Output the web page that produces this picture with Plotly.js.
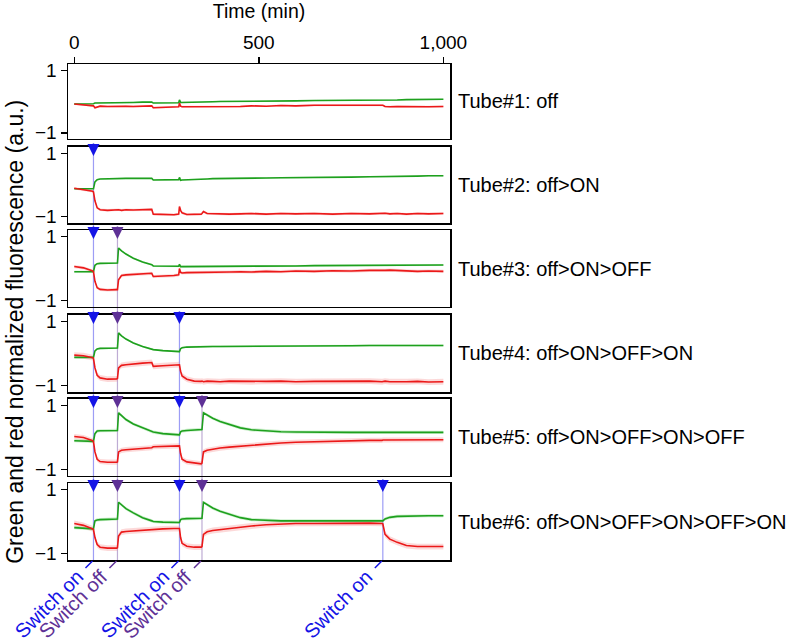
<!DOCTYPE html>
<html>
<head>
<meta charset="utf-8">
<script src="https://cdn.plot.ly/plotly-3.0.1.min.js"></script>
<style>
  html, body { margin: 0; padding: 0; background: #fff; }
  #chart { width: 788px; height: 640px; }
</style>
</head>
<body>
<div id="chart"></div>
<script>
// time points (min), shared by all tubes
var t = [0, 25, 50, 52, 56, 62, 70, 90, 115, 117,
         120, 128, 140, 160, 185, 210, 214, 240, 270, 283,
         285, 288, 292, 305, 325, 344, 346, 350, 360, 375,
         395, 420, 450, 480, 520, 560, 600, 650, 700, 750,
         800, 834, 836, 842, 855, 875, 900, 930, 960, 1000];

var green1 = [-0.08, -0.08, -0.08, -0.07, -0.05, -0.05, -0.05, -0.04, -0.04, -0.04,
              -0.04, -0.03, -0.03, -0.03, -0.02, -0.02, -0.05, -0.05, -0.04, -0.04,
              0.05, -0.03, -0.03, -0.03, -0.02, -0.02, -0.02, -0.02, -0.01, -0.01,
              0.0, 0.0, 0.0, 0.01, 0.01, 0.02, 0.02, 0.03, 0.03, 0.04,
              0.04, 0.04, 0.05, 0.05, 0.05, 0.05, 0.06, 0.06, 0.06, 0.07];
var red1 = [-0.08, -0.1, -0.12, -0.14, -0.2, -0.17, -0.15, -0.16, -0.15, -0.16,
            -0.15, -0.16, -0.15, -0.16, -0.15, -0.14, -0.2, -0.19, -0.18, -0.17,
            -0.05, -0.15, -0.17, -0.17, -0.16, -0.17, -0.16, -0.17, -0.16, -0.15,
            -0.16, -0.15, -0.16, -0.14, -0.15, -0.13, -0.14, -0.12, -0.13, -0.12,
            -0.12, -0.11, -0.12, -0.16, -0.17, -0.16, -0.17, -0.16, -0.17, -0.16];

var green2 = [-0.12, -0.12, -0.12, -0.12, 0.1, 0.17, 0.19, 0.2, 0.21, 0.21,
              0.21, 0.21, 0.21, 0.21, 0.21, 0.21, 0.16, 0.16, 0.16, 0.17,
              0.24, 0.15, 0.16, 0.17, 0.18, 0.18, 0.19, 0.19, 0.19, 0.2,
              0.2, 0.21, 0.21, 0.22, 0.22, 0.23, 0.23, 0.24, 0.24, 0.25,
              0.26, 0.26, 0.26, 0.27, 0.27, 0.27, 0.28, 0.28, 0.29, 0.29];
var red2 = [-0.1, -0.14, -0.2, -0.22, -0.5, -0.72, -0.78, -0.8, -0.78, -0.79,
            -0.78, -0.8, -0.78, -0.79, -0.77, -0.77, -0.92, -0.93, -0.94, -0.92,
            -0.68, -0.8, -0.88, -0.93, -0.93, -0.92, -0.9, -0.84, -0.9, -0.91,
            -0.9, -0.92, -0.91, -0.9, -0.92, -0.9, -0.91, -0.9, -0.92, -0.9,
            -0.91, -0.9, -0.91, -0.89, -0.91, -0.9, -0.92, -0.9, -0.91, -0.9];

var green3 = [-0.1, -0.1, -0.1, -0.1, 0.1, 0.15, 0.16, 0.17, 0.17, 0.17,
              0.64, 0.55, 0.45, 0.32, 0.2, 0.12, 0.08, 0.07, 0.07, 0.07,
              0.13, 0.06, 0.06, 0.06, 0.06, 0.07, 0.07, 0.07, 0.07, 0.07,
              0.07, 0.07, 0.07, 0.08, 0.08, 0.08, 0.08, 0.09, 0.09, 0.09,
              0.09, 0.1, 0.1, 0.1, 0.1, 0.1, 0.1, 0.11, 0.11, 0.11];
var red3 = [0.06, 0.02, -0.08, -0.1, -0.4, -0.6, -0.65, -0.67, -0.66, -0.66,
            -0.35, -0.22, -0.2, -0.19, -0.18, -0.15, -0.25, -0.24, -0.22, -0.2,
            0.0, -0.12, -0.14, -0.13, -0.13, -0.12, -0.13, -0.12, -0.12, -0.11,
            -0.12, -0.11, -0.1, -0.11, -0.09, -0.1, -0.08, -0.09, -0.07, -0.08,
            -0.06, -0.07, -0.06, -0.06, -0.05, -0.06, -0.07, -0.09, -0.08, -0.09];

var green4 = [-0.12, -0.12, -0.12, -0.12, 0.08, 0.14, 0.16, 0.17, 0.17, 0.17,
              0.64, 0.55, 0.45, 0.33, 0.22, 0.14, 0.12, 0.09, 0.07, 0.06,
              0.06, 0.15, 0.18, 0.2, 0.21, 0.21, 0.21, 0.22, 0.22, 0.22,
              0.22, 0.22, 0.23, 0.23, 0.23, 0.23, 0.24, 0.24, 0.24, 0.24,
              0.25, 0.25, 0.25, 0.25, 0.25, 0.25, 0.25, 0.25, 0.25, 0.25];
var red4 = [-0.05, -0.07, -0.13, -0.15, -0.45, -0.68, -0.76, -0.8, -0.79, -0.78,
            -0.45, -0.37, -0.35, -0.32, -0.3, -0.28, -0.4, -0.38, -0.36, -0.35,
            -0.35, -0.55, -0.7, -0.8, -0.86, -0.87, -0.86, -0.88, -0.86, -0.87,
            -0.88, -0.86, -0.87, -0.88, -0.87, -0.86, -0.88, -0.87, -0.86, -0.87,
            -0.86, -0.88, -0.87, -0.86, -0.88, -0.87, -0.88, -0.87, -0.89, -0.88];

var green5 = [-0.1, -0.1, -0.11, -0.12, 0.12, 0.2, 0.21, 0.22, 0.22, 0.22,
              0.77, 0.68, 0.56, 0.42, 0.3, 0.2, 0.17, 0.12, 0.09, 0.08,
              0.08, 0.18, 0.2, 0.22, 0.24, 0.25, 0.25, 0.77, 0.7, 0.6,
              0.5, 0.4, 0.3, 0.24, 0.2, 0.18, 0.17, 0.16, 0.16, 0.16,
              0.16, 0.16, 0.16, 0.16, 0.16, 0.16, 0.16, 0.16, 0.16, 0.16];
var red5 = [0.03, 0.0, -0.1, -0.13, -0.45, -0.68, -0.75, -0.77, -0.77, -0.76,
            -0.45, -0.4, -0.38, -0.36, -0.34, -0.32, -0.29, -0.28, -0.27, -0.26,
            -0.26, -0.5, -0.68, -0.76, -0.8, -0.82, -0.8, -0.45, -0.4, -0.36,
            -0.33, -0.3, -0.27, -0.24, -0.2, -0.17, -0.15, -0.13, -0.11, -0.1,
            -0.09, -0.09, -0.08, -0.08, -0.08, -0.07, -0.08, -0.07, -0.07, -0.07];

var green6 = [-0.19, -0.2, -0.22, -0.23, 0.02, 0.05, 0.06, 0.07, 0.08, 0.08,
              0.6, 0.52, 0.4, 0.27, 0.12, 0.02, 0.0, -0.02, -0.03, -0.03,
              -0.03, 0.06, 0.08, 0.09, 0.1, 0.1, 0.1, 0.6, 0.52, 0.42,
              0.32, 0.22, 0.12, 0.06, 0.03, 0.02, 0.02, 0.02, 0.02, 0.02,
              0.02, 0.02, 0.02, 0.08, 0.13, 0.16, 0.17, 0.18, 0.18, 0.18];
var red6 = [-0.06, -0.12, -0.23, -0.25, -0.5, -0.72, -0.8, -0.83, -0.83, -0.82,
            -0.45, -0.33, -0.31, -0.29, -0.27, -0.25, -0.24, -0.23, -0.22, -0.22,
            -0.22, -0.5, -0.68, -0.77, -0.8, -0.8, -0.78, -0.4, -0.32, -0.28,
            -0.25, -0.22, -0.18, -0.14, -0.1, -0.07, -0.06, -0.06, -0.05, -0.06,
            -0.05, -0.06, -0.07, -0.4, -0.55, -0.65, -0.75, -0.78, -0.77, -0.78];

// spread of the replicates (half width of the shaded band)
var greenSd = [0.02, 0.02, 0.03, 0.03, 0.05, 0.05];
var redSd = [0.03, 0.04, 0.05, 0.09, 0.08, 0.09];

var tubeLabels = ["Tube#1: off", "Tube#2: off>ON", "Tube#3: off>ON>OFF",
                  "Tube#4: off>ON>OFF>ON", "Tube#5: off>ON>OFF>ON>OFF",
                  "Tube#6: off>ON>OFF>ON>OFF>ON"];

var switchTimes = [52, 117, 285, 346, 836];
var switchKinds = ["on", "off", "on", "off", "on"];
var switchFirstTube = [2, 3, 4, 5, 6];

var greens = [green1, green2, green3, green4, green5, green6];
var reds = [red1, red2, red3, red4, red5, red6];

var FONT = "Liberation Sans, Arial, Helvetica, sans-serif";
var domains = [[0.8488, 1], [0.6794, 0.8327], [0.5101, 0.6653],
               [0.3387, 0.4940], [0.1694, 0.3246], [0, 0.1552]];

function band(y, sd, sign) {
  return y.map(function(v) { return v + sign * sd; });
}

var data = [];
for (var i = 0; i < 6; i++) {
  var xa = i == 0 ? "x" : "x" + (i + 1);
  var ya = i == 0 ? "y" : "y" + (i + 1);
  // shaded bands
  data.push({x: t, y: band(reds[i], redSd[i], 1), xaxis: xa, yaxis: ya, mode: "lines",
             line: {width: 0, color: "rgba(0,0,0,0)"}, hoverinfo: "skip", showlegend: false});
  data.push({x: t, y: band(reds[i], redSd[i], -1), xaxis: xa, yaxis: ya, mode: "lines",
             fill: "tonexty", fillcolor: "rgba(245,120,120,0.28)",
             line: {width: 0, color: "rgba(0,0,0,0)"}, hoverinfo: "skip", showlegend: false});
  data.push({x: t, y: band(greens[i], greenSd[i], 1), xaxis: xa, yaxis: ya, mode: "lines",
             line: {width: 0, color: "rgba(0,0,0,0)"}, hoverinfo: "skip", showlegend: false});
  data.push({x: t, y: band(greens[i], greenSd[i], -1), xaxis: xa, yaxis: ya, mode: "lines",
             fill: "tonexty", fillcolor: "rgba(80,200,80,0.28)",
             line: {width: 0, color: "rgba(0,0,0,0)"}, hoverinfo: "skip", showlegend: false});
  // mean lines
  data.push({x: t, y: greens[i], xaxis: xa, yaxis: ya, mode: "lines",
             line: {width: 1.6, color: "rgb(30,160,30)"}, showlegend: false});
  data.push({x: t, y: reds[i], xaxis: xa, yaxis: ya, mode: "lines",
             line: {width: 1.6, color: "rgb(235,25,25)"}, showlegend: false});
}

var layout = {
  width: 788, height: 640,
  margin: {l: 68, r: 338, t: 64, b: 80},
  paper_bgcolor: "#fff", plot_bgcolor: "#fff",
  font: {family: FONT, size: 19, color: "#000"},
  showlegend: false,
  shapes: [], annotations: []
};

for (var i = 0; i < 6; i++) {
  var xk = i == 0 ? "xaxis" : "xaxis" + (i + 1);
  var yk = i == 0 ? "yaxis" : "yaxis" + (i + 1);
  var xa = {
    domain: [0, 1], anchor: i == 0 ? "y" : "y" + (i + 1), range: [-17, 1018],
    showline: true, mirror: true, linecolor: "#000", linewidth: 1.5,
    showgrid: false, zeroline: false, fixedrange: true
  };
  if (i == 0) {
    xa.side = "top";
    xa.ticks = "outside"; xa.ticklen = 6; xa.tickwidth = 1.5; xa.tickcolor = "#000";
    xa.tickvals = [0, 500, 1000]; xa.tickformat = ",";
    xa.tickfont = {size: 19};
    xa.title = {text: "Time (min)", font: {size: 19.5}, standoff: 12};
  } else {
    xa.showticklabels = false; xa.ticks = "";
  }
  layout[xk] = xa;
  layout[yk] = {
    domain: domains[i], anchor: i == 0 ? "x" : "x" + (i + 1), range: [-1.2, 1.2],
    tickvals: [-1, 1], ticks: "outside", ticklen: 6, tickwidth: 1.5, tickcolor: "#000",
    showline: true, mirror: true, linecolor: "#000", linewidth: 1.5,
    showgrid: false, zeroline: false, fixedrange: true, tickfont: {size: 19}
  };
  layout.annotations.push({
    text: tubeLabels[i], xref: "paper", yref: "paper", x: 1, xshift: 6,
    y: (domains[i][0] + domains[i][1]) / 2, xanchor: "left", yanchor: "middle",
    showarrow: false, font: {size: 20}
  });
}

// switch lines, arrows and labels
for (var s = 0; s < switchTimes.length; s++) {
  var col = switchKinds[s] == "on" ? "#1414e6" : "#5e3196";
  var lineCol = switchKinds[s] == "on" ? "rgba(60,60,235,0.5)" : "rgba(110,70,160,0.45)";
  var lineTop = domains[switchFirstTube[s] - 1][1];
  layout.shapes.push({type: "line", xref: "x", yref: "paper",
    x0: switchTimes[s], x1: switchTimes[s], y0: 0, y1: lineTop,
    line: {color: lineCol, width: 1.2}, layer: "below"});
  layout.shapes.push({type: "line", xref: "x", yref: "paper",
    xsizemode: "pixel", ysizemode: "pixel", xanchor: switchTimes[s], yanchor: 0,
    x0: -8, x1: -1, y0: -8, y1: -1, line: {color: col, width: 1.5}});
  for (var k = switchFirstTube[s]; k <= 6; k++) {
    layout.annotations.push({
      x: switchTimes[s], xref: "x", y: domains[k - 1][1], yref: "paper",
      text: "", showarrow: true, ax: 0, ay: -14, yshift: -9,
      arrowhead: 2, arrowsize: 1.6, arrowwidth: 1.5, arrowcolor: col
    });
  }
  layout.annotations.push({
    text: "Switch " + switchKinds[s], x: switchTimes[s], xref: "x", y: 0, yref: "paper",
    xanchor: "right", yanchor: "top", textangle: -45, xshift: -3, yshift: -3,
    showarrow: false, font: {size: 20, color: col}
  });
}

layout.annotations.push({
  text: "Green and red normalized fluorescence (a.u.)", xref: "paper", yref: "paper",
  x: 0, xshift: -53, y: 0.46, xanchor: "center", yanchor: "middle",
  textangle: -90, showarrow: false, font: {size: 23}
});

Plotly.newPlot("chart", data, layout, {staticPlot: true});
</script>
</body>
</html>
